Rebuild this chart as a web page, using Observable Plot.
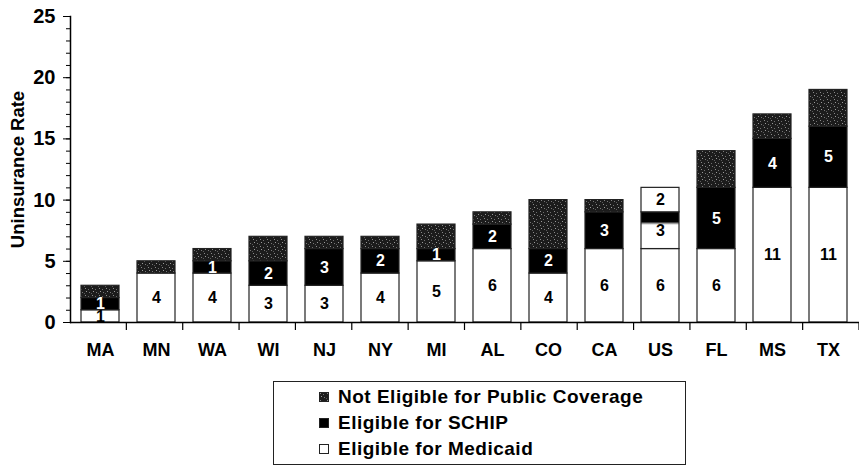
<!DOCTYPE html>
<html><head><meta charset="utf-8">
<script src="https://cdn.jsdelivr.net/npm/d3@7"></script>
<script src="https://cdn.jsdelivr.net/npm/@observablehq/plot@0.6"></script>
<style>
body{margin:0;background:#fff;font-family:"Liberation Sans",Arial,sans-serif;}
#chart{position:absolute;left:0;top:0;}
#legend{position:absolute;left:273px;top:381px;width:413px;height:84px;border:1px solid #222;box-sizing:border-box;padding-top:2px;padding-left:45px;}
.row{display:flex;align-items:center;height:26px;font-weight:bold;font-size:19px;letter-spacing:0.5px;color:#000;}
</style></head>
<body>
<svg width="0" height="0" style="position:absolute">
  <defs>
    <pattern id="noise" width="7" height="7" patternUnits="userSpaceOnUse">
      <rect width="7" height="7" fill="#1c1c1c"/>
      <rect x="1" y="1" width="1" height="1" fill="#8a8a8a"/>
      <rect x="4" y="2" width="1" height="1" fill="#6e6e6e"/>
      <rect x="2" y="4" width="1" height="1" fill="#9a9a9a"/>
      <rect x="5" y="5" width="1" height="1" fill="#777"/>
      <rect x="0" y="6" width="1" height="1" fill="#5a5a5a"/>
    </pattern>
    <linearGradient id="fadedSchip" x1="0" y1="0" x2="0" y2="1">
      <stop offset="0" stop-color="#000"/>
      <stop offset="0.27" stop-color="#000"/>
      <stop offset="0.30" stop-color="#666"/>
      <stop offset="0.34" stop-color="#ddd"/>
      <stop offset="0.37" stop-color="#fff"/>
      <stop offset="1" stop-color="#fff"/>
    </linearGradient>
  </defs>
</svg>
<div id="chart"></div>
<div id="legend"></div>
<script>
const states = ["MA","MN","WA","WI","NJ","NY","MI","AL","CO","CA","US","FL","MS","TX"];
const medicaid = [1,4,4,3,3,4,5,6,4,6,6,6,11,11];
const schip = [1,0,1,2,3,2,1,2,2,3,3,5,4,5];
const notEligible = [1,1,1,2,1,1,2,1,4,1,2,3,2,3];
const categories = ["Eligible for Medicaid","Eligible for SCHIP","Not Eligible for Public Coverage"];
const faded = ["US"]; // bar whose upper segments appear washed out in the source
const yTicks = [0,5,10,15,20,25];
const yMinor = d3.range(0,26,1);

const series = [medicaid, schip, notEligible];
function fillFor(s,k){
  if(k===0) return "white";
  if(k===1) return faded.includes(s) ? "url(#fadedSchip)" : "black";
  return faded.includes(s) ? "white" : "url(#noise)";
}
const rows = [];
states.forEach((s,i)=>{
  let base = 0;
  series.forEach((arr,k)=>{
    const v = arr[i];
    const fill = fillFor(s,k);
    const label = fill==="black" ? "white" : (fill==="url(#noise)" ? "none" : "black");
    rows.push({state:s, category:categories[k], value:v, y1:base, y2:base+v, fill, label});
    base += v;
  });
});

const plot = Plot.plot({
  width: 859, height: 370,
  marginLeft: 70, marginRight: 0, marginTop: 16, marginBottom: 48,
  style: {fontFamily: '"Liberation Sans", Arial, sans-serif', background: "white", color: "#000"},
  x: {domain: states, paddingInner: 0.32, paddingOuter: 0.16, label: null},
  y: {domain: [0,25], label: null},
  color: {type: "identity"},
  marks: [
    Plot.barY(rows.filter(d=>d.value>0), {x:"state", y1:"y1", y2:"y2", fill:"fill", stroke:"#222", strokeWidth:1.2}),
    Plot.text(rows.filter(d=>d.value>0 && d.label!=="none"), {x:"state", y:d=>(d.y1+d.y2)/2, text:d=>String(d.value), fill:"label", fontSize:16, fontWeight:"bold"}),
    Plot.axisY({ticks: yMinor, tickSize: 4, tickFormat: ()=>"", stroke:"#000"}),
    Plot.axisY({ticks: yTicks, tickSize: 7, tickPadding: 8, fontSize: 20, fontWeight: "bold", label: null}),
    Plot.axisX({tickSize: 0, tickPadding: 21, fontSize: 18, fontWeight: "bold", label: null}),
    Plot.frame({anchor: "left", stroke:"#000", strokeWidth:1.5}),
    Plot.ruleY([0], {stroke:"#000", strokeWidth:1.5}),
    Plot.text(["Uninsurance Rate"], {frameAnchor:"left", dx:-52, rotate:-90, textAnchor:"middle", fontSize:18.5, fontWeight:"bold"})
  ]
});
document.getElementById("chart").appendChild(plot);

// category boundary ticks below the baseline, placed from the x scale
const xs = plot.scale("x"), ys = plot.scale("y");
const r = xs.range, step = (r[1]-r[0])/states.length, y0 = ys.apply(0);
const g = d3.select(plot).append("g").attr("stroke","#000").attr("stroke-width",1.2);
for(let i=1;i<=states.length;i++){
  const x = r[0]+i*step;
  g.append("line").attr("x1",x).attr("x2",x).attr("y1",y0).attr("y2",y0+8);
}

// legend
const legendFills = {"Not Eligible for Public Coverage":"url(#noise)","Eligible for SCHIP":"black","Eligible for Medicaid":"white"};
const leg = document.getElementById("legend");
categories.slice().reverse().forEach(c=>{
  const row = document.createElement("div"); row.className="row";
  const sw = document.createElementNS("http://www.w3.org/2000/svg","svg");
  sw.setAttribute("width","10"); sw.setAttribute("height","10");
  sw.style.marginRight="9px"; sw.style.flex="none";
  const rc = document.createElementNS("http://www.w3.org/2000/svg","rect");
  rc.setAttribute("x","0.5"); rc.setAttribute("y","0.5"); rc.setAttribute("width","9"); rc.setAttribute("height","9");
  rc.setAttribute("fill", legendFills[c]); rc.setAttribute("stroke","#222");
  sw.appendChild(rc);
  row.appendChild(sw);
  const t = document.createElement("span"); t.textContent = c; row.appendChild(t);
  leg.appendChild(row);
});
</script>
</body></html>
